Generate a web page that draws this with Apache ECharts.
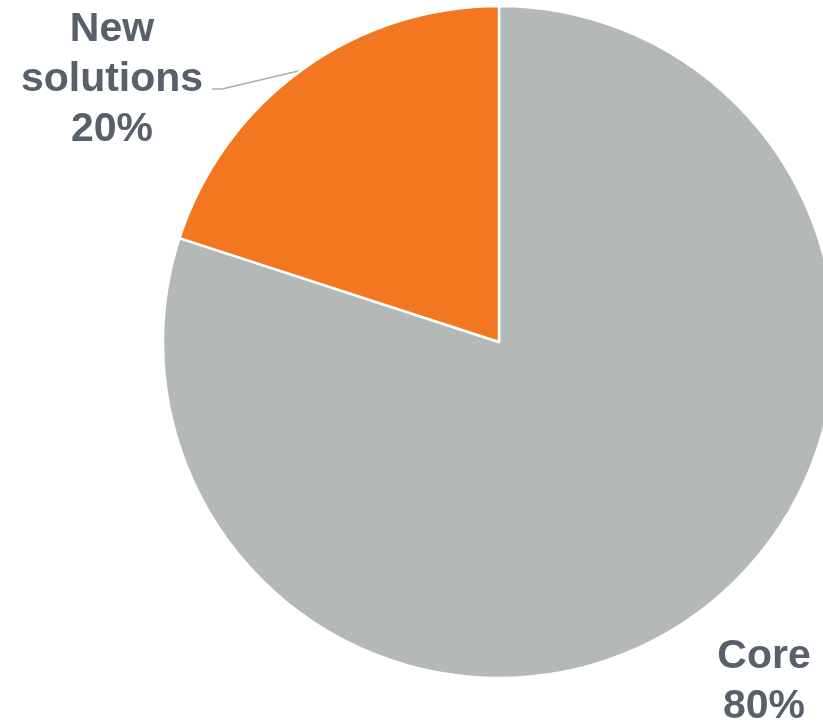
<!DOCTYPE html>
<html><head><meta charset="utf-8">
<script src="https://cdn.jsdelivr.net/npm/echarts@6/dist/echarts.min.js"></script>
<style>html,body{margin:0;padding:0;background:#fff}#c{width:823px;height:724px}</style>
</head><body><div id="c"></div>
<script>
const categories = ['Core', 'New solutions'];
const values = [80, 20];
const colors = ['#B4B9B8', '#F37721'];

const chart = echarts.init(document.getElementById('c'), null, {renderer: 'canvas'});
const labelPos = [
  {x: 764, y: 682},
  {x: 112, y: 80}
];
chart.setOption({
  animation: false,
  series: [{
    type: 'pie',
    center: [499, 342],
    radius: 336,
    startAngle: 90,
    clockwise: true,
    itemStyle: {borderColor: '#fff', borderWidth: 2.5},
    label: {
      show: true,
      position: 'outside',
      formatter: p => p.name.replace(' ', '\n') + '\n' + p.value + '%',
      fontFamily: 'Liberation Sans, Arial, sans-serif',
      fontWeight: 'bold',
      fontSize: 41,
      lineHeight: 50,
      color: '#58606B',
      align: 'center'
    },
    labelLine: {show: true, length: 10, length2: 10, lineStyle: {color: '#A9AEB3', width: 1.5}},
    labelLayout: function (p) {
      const pos = labelPos[p.dataIndex];
      const res = {x: pos.x, y: pos.y, align: 'center', verticalAlign: 'middle'};
      if (p.dataIndex === 1 && p.labelLinePoints) {
        const start = p.labelLinePoints[0];
        res.labelLinePoints = [start, [222, 89], [212, 89]];
      }
      return res;
    },
    data: categories.map((c, i) => ({name: c, value: values[i], itemStyle: {color: colors[i]},
      labelLine: {show: i === 1}}))
  }]
});
</script></body></html>
